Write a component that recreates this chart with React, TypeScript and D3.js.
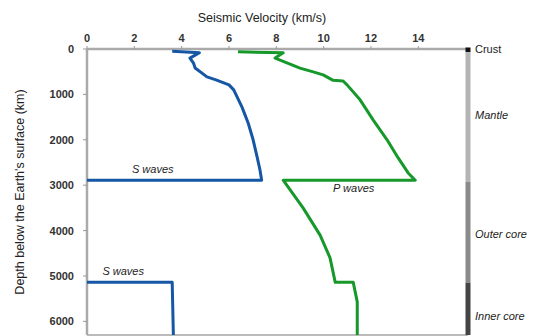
import React from "react";
import * as d3 from "d3";

// velocity (km/s) vs depth (km)
const sWaveUpper = [
  [3.6, 50], [4.75, 80], [4.35, 200], [4.5, 310], [4.57, 420], [5.07, 615],
  [5.45, 680], [6.0, 790], [6.2, 900], [6.55, 1280], [6.81, 1630],
  [7.02, 2000], [7.19, 2380], [7.31, 2665], [7.38, 2890], [0, 2890],
];
const sWaveLower = [[0, 5140], [3.6, 5140], [3.65, 6300]];
const pWave = [
  [6.38, 60], [8.29, 85], [7.95, 200], [8.37, 290], [9.0, 420], [9.56, 505],
  [9.98, 570], [10.4, 690], [10.82, 705], [10.99, 790], [11.54, 1120],
  [12.09, 1560], [12.68, 2000], [13.15, 2400], [13.57, 2730], [13.87, 2890],
  [8.29, 2890], [9.13, 3500], [9.85, 4100], [10.27, 4600], [10.49, 5140],
  [11.25, 5140], [11.42, 5570], [11.42, 6300],
];
const xTicks = [0, 2, 4, 6, 8, 10, 12, 14];
const yTicks = [0, 1000, 2000, 3000, 4000, 5000, 6000];
const layers = [
  { name: "Crust", top: 0, bottom: 70, color: "#111", italic: false, labelDepth: 0 },
  { name: "Mantle", top: 70, bottom: 2930, color: "#b4b4b4", italic: true, labelDepth: 1450 },
  { name: "Outer core", top: 2930, bottom: 5150, color: "#8a8a8a", italic: true, labelDepth: 4080 },
  { name: "Inner core", top: 5150, bottom: 6300, color: "#444", italic: true, labelDepth: 5880 },
];
const waveLabels = [
  { text: "S waves", v: 1.9, d: 2730 },
  { text: "S waves", v: 0.65, d: 4980 },
  { text: "P waves", v: 10.4, d: 3150 },
];

const W = 537;
const H = 336;
const left = 87;
const right = 468;
const top = 49;
const bottom = 335;

export default function App() {
  const x = d3.scaleLinear().domain([0, 16.1]).range([left, right]);
  const y = d3.scaleLinear().domain([0, 6300]).range([top, bottom]);
  const line = d3
    .line<number[]>()
    .x((d) => x(d[0]))
    .y((d) => y(d[1]));
  const font = "Liberation Sans, Arial, sans-serif";

  return (
    <svg width={W} height={H} style={{ position: "absolute", left: 0, top: 0 }} fontFamily={font}>
      <rect width={W} height={H} fill="#fff" />
      <text x={262} y={22} textAnchor="middle" fontSize={12.5} fill="#222">
        Seismic Velocity (km/s)
      </text>
      <text
        transform={`translate(24,${192}) rotate(-90)`}
        textAnchor="middle"
        fontSize={12.5}
        fill="#222"
      >
        Depth below the Earth's surface (km)
      </text>

      {/* frame */}
      <line x1={left} x2={right} y1={bottom} y2={bottom} stroke="#bbb" strokeWidth={2} />
      <line x1={left} x2={right} y1={top} y2={top} stroke="#aaa" strokeWidth={2.5} />
      <line x1={left} x2={left} y1={top} y2={bottom} stroke="#aaa" strokeWidth={2.5} />

      {xTicks.map((t) => (
        <g key={t}>
          <line x1={x(t)} x2={x(t)} y1={top - 3} y2={top} stroke="#999" strokeWidth={1} />
          <text x={x(t)} y={top - 7} textAnchor="middle" fontSize={11} fontWeight="bold" fill="#333">
            {t}
          </text>
        </g>
      ))}
      {yTicks.map((t) => (
        <g key={t}>
          <line x1={left - 4} x2={left} y1={y(t)} y2={y(t)} stroke="#999" strokeWidth={1} />
          <text x={left - 13} y={y(t) + 4} textAnchor="end" fontSize={11} fontWeight="bold" fill="#333">
            {t}
          </text>
        </g>
      ))}

      {/* layer bar */}
      {layers.map((l) => (
        <g key={l.name}>
          <rect
            x={right - 2.5}
            width={5}
            y={y(l.top) - (l.top === 0 ? 1.5 : 0)}
            height={y(l.bottom) - y(l.top) + (l.top === 0 ? 1.5 : 0)}
            fill={l.color}
          />
          <text
            x={right + 7}
            y={y(l.labelDepth) + 4}
            fontSize={11}
            fontStyle={l.italic ? "italic" : "normal"}
            fill="#222"
          >
            {l.name}
          </text>
        </g>
      ))}

      <path d={line(sWaveUpper) || ""} fill="none" stroke="#1557a5" strokeWidth={3} strokeLinejoin="round" />
      <path d={line(sWaveLower) || ""} fill="none" stroke="#1557a5" strokeWidth={3} strokeLinejoin="round" />
      <path d={line(pWave) || ""} fill="none" stroke="#16982a" strokeWidth={3} strokeLinejoin="round" />

      {waveLabels.map((w, i) => (
        <text key={i} x={x(w.v)} y={y(w.d)} fontSize={11} fontStyle="italic" fill="#222">
          {w.text}
        </text>
      ))}
    </svg>
  );
}
